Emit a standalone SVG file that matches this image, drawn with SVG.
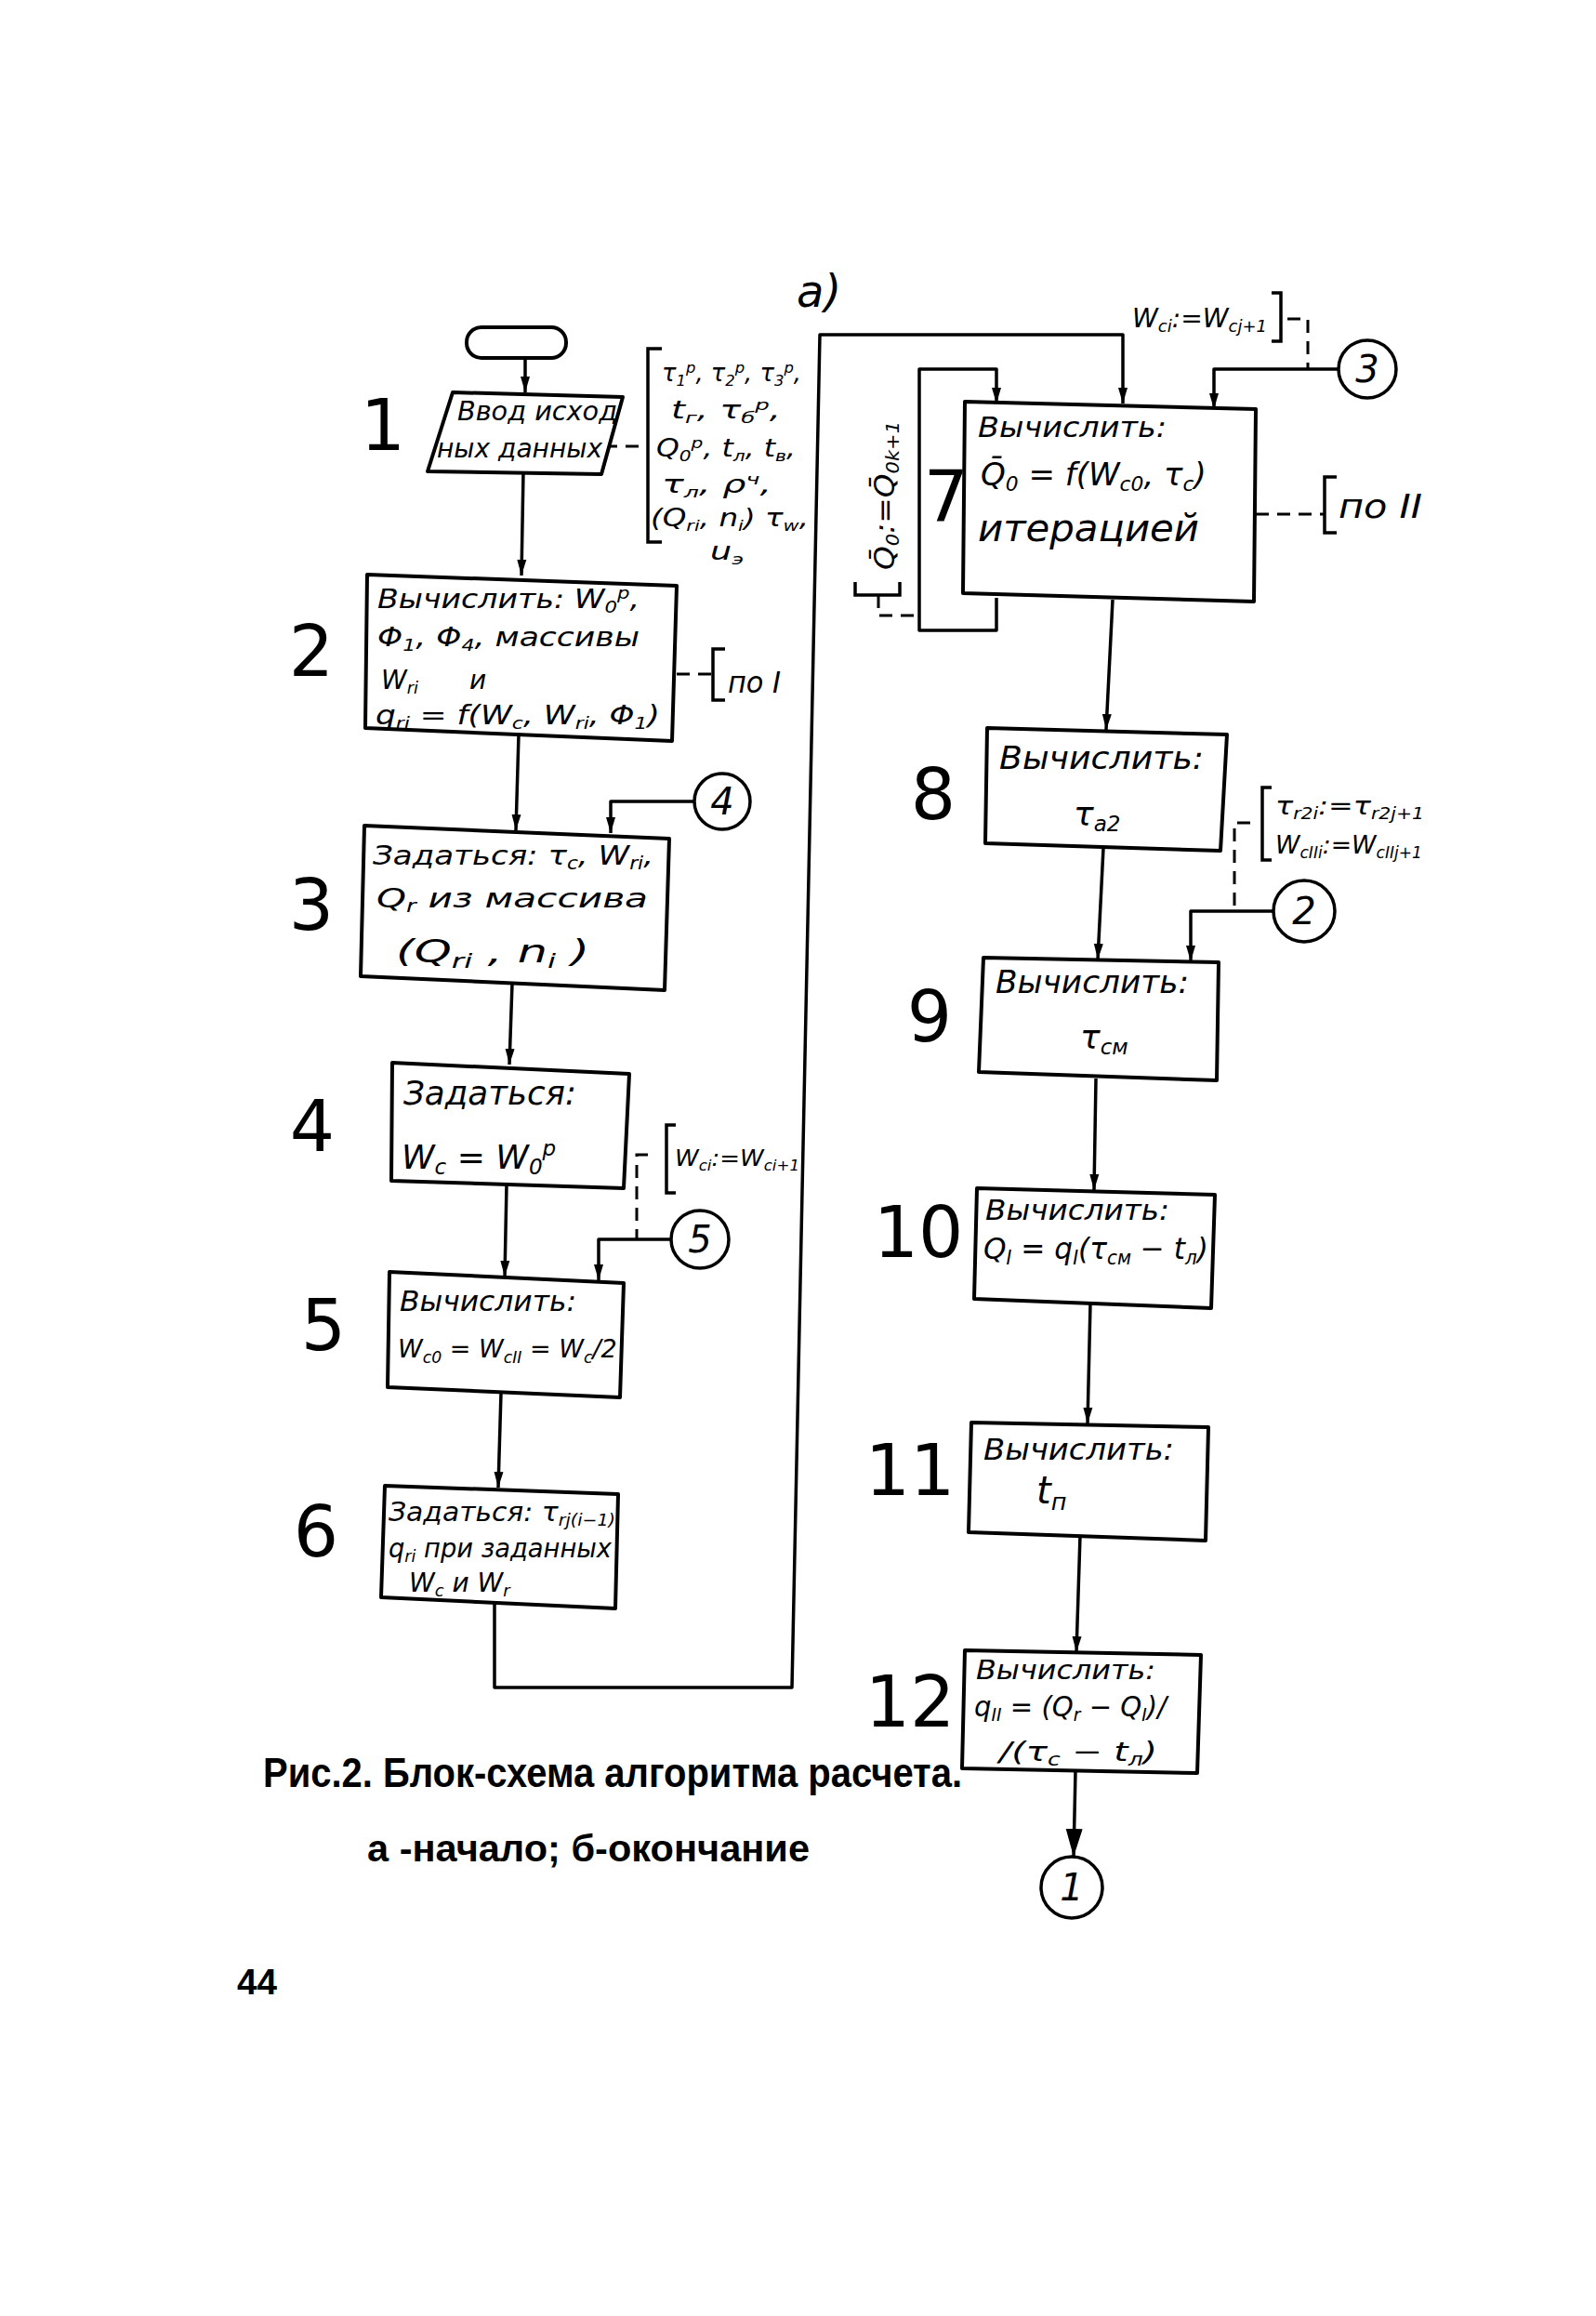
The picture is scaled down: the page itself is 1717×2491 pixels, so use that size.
<svg xmlns="http://www.w3.org/2000/svg" width="1717" height="2491" viewBox="0 0 1717 2491">
<style>
.bx{fill:#fff;stroke:#000;stroke-width:4;stroke-linejoin:round}
.ln{fill:none;stroke:#000;stroke-width:3.5;stroke-linejoin:round}
.ds{fill:none;stroke:#000;stroke-width:3;stroke-dasharray:14 9}
.br{fill:none;stroke:#000;stroke-width:3.5}
.cc{fill:#fff;stroke:#000;stroke-width:3.5}
.h{font-family:"DejaVu Sans","Liberation Sans",sans-serif;font-style:italic;fill:#000}
.n{font-family:"DejaVu Sans","Liberation Sans",sans-serif;font-size:76px;fill:#000;text-anchor:middle}
.cn{font-family:"DejaVu Sans","Liberation Sans",sans-serif;font-style:italic;font-size:40px;fill:#000;text-anchor:middle}
.cap{font-family:"Liberation Sans",sans-serif;font-weight:bold;fill:#000}
.s{font-size:0.64em}
</style>
<defs>
<marker id="a" viewBox="0 -6 17 12" refX="17" refY="0" markerWidth="17" markerHeight="12" markerUnits="userSpaceOnUse" orient="auto"><path d="M0,-5 L17,0 L0,5 z"/></marker>
<marker id="A" viewBox="0 -10 30 20" refX="30" refY="0" markerWidth="30" markerHeight="20" markerUnits="userSpaceOnUse" orient="auto"><path d="M0,-9 L30,0 L0,9 z"/></marker>
</defs>
<rect width="1717" height="2491" fill="#fff"/>

<g id="connectors">
<path class="ln" d="M565,385 V422" marker-end="url(#a)"/>
<path class="ln" d="M563,507 L561,619" marker-end="url(#a)"/>
<path class="ln" d="M558,790 L555,893" marker-end="url(#a)"/>
<path class="ln" d="M747,862 H657 V896" marker-end="url(#a)"/>
<path class="ln" d="M551,1058 L548,1145" marker-end="url(#a)"/>
<path class="ln" d="M545,1274 L543,1373" marker-end="url(#a)"/>
<path class="ln" d="M722,1333 H644 V1377" marker-end="url(#a)"/>
<path class="ln" d="M539,1498 L536,1600" marker-end="url(#a)"/>
<path class="ln" d="M532,1725 V1815 H852 L882,360 H1208 V434" marker-end="url(#a)"/>
<path class="ln" d="M1072,643 V678 H989 V397 H1072 V434" marker-end="url(#a)"/>
<path class="ln" d="M1440,397 H1306 V440" marker-end="url(#a)"/>
<path class="ln" d="M1197,645 L1190,785" marker-end="url(#a)"/>
<path class="ln" d="M1187,912 L1181,1032" marker-end="url(#a)"/>
<path class="ln" d="M1370,980 H1281 V1034" marker-end="url(#a)"/>
<path class="ln" d="M1179,1160 L1177,1280" marker-end="url(#a)"/>
<path class="ln" d="M1173,1402 L1170,1531" marker-end="url(#a)"/>
<path class="ln" d="M1162,1652 L1158,1777" marker-end="url(#a)"/>
<path class="ln" d="M1157,1905 L1155,1997" marker-end="url(#A)"/>
<path class="ds" d="M650,480 H697"/>
<path class="ds" d="M728,725 H765"/>
<path class="ds" d="M1351,553 H1424"/>
<path class="ds" d="M697,1242 H685 V1333"/>
<path class="ds" d="M1385,343 H1407 V397"/>
<path class="ds" d="M1345,885 H1328 V980"/>
<path class="ds" d="M945,640 V662 H985"/>
</g>

<g id="start"><rect class="bx" x="502" y="352" width="107" height="33" rx="16"/></g>

<g id="n1">
<polygon class="bx" points="487,422 670,427 647,510 460,507"/>
<text class="n" x="412" y="484">1</text>
<text class="h" x="492" y="452" font-size="28" textLength="172" lengthAdjust="spacingAndGlyphs">Ввод исход</text>
<text class="h" x="470" y="492" font-size="28" textLength="178" lengthAdjust="spacingAndGlyphs">ных данных</text>
</g>

<g id="n1-data">
<path class="br" d="M712,375 H697 V583 H712"/>
<g class="h" font-size="26">
<text x="712" y="410" textLength="150" lengthAdjust="spacingAndGlyphs">τ<tspan class="s" dy="5">1</tspan><tspan class="s" dy="-14">p</tspan><tspan dy="9">, τ</tspan><tspan class="s" dy="5">2</tspan><tspan class="s" dy="-14">p</tspan><tspan dy="9">, τ</tspan><tspan class="s" dy="5">3</tspan><tspan class="s" dy="-14">p</tspan><tspan dy="9">,</tspan></text>
<text x="722" y="450" textLength="118" lengthAdjust="spacingAndGlyphs">t<tspan class="s" dy="5">г</tspan><tspan dy="-5">, τ</tspan><tspan class="s" dy="5">б</tspan><tspan class="s" dy="-14">p</tspan><tspan dy="9">,</tspan></text>
<text x="706" y="491" textLength="150" lengthAdjust="spacingAndGlyphs">Q<tspan class="s" dy="5">0</tspan><tspan class="s" dy="-14">p</tspan><tspan dy="9">, t</tspan><tspan class="s" dy="5">л</tspan><tspan dy="-5">, t</tspan><tspan class="s" dy="5">в</tspan><tspan dy="-5">,</tspan></text>
<text x="712" y="530" textLength="118" lengthAdjust="spacingAndGlyphs">τ<tspan class="s" dy="5">л</tspan><tspan dy="-5">, ρ</tspan><tspan class="s" dy="-9">ч</tspan><tspan dy="9">,</tspan></text>
<text x="700" y="566" textLength="170" lengthAdjust="spacingAndGlyphs">(Q<tspan class="s" dy="5">ri</tspan><tspan dy="-5">, n</tspan><tspan class="s" dy="5">i</tspan><tspan dy="-5">) τ</tspan><tspan class="s" dy="5">w</tspan><tspan dy="-5">,</tspan></text>
<text x="764" y="602" textLength="36" lengthAdjust="spacingAndGlyphs">u<tspan class="s" dy="5">э</tspan></text>
</g>
</g>

<g id="n2">
<polygon class="bx" points="395,618 728,630 723,797 393,783"/>
<text class="n" x="335" y="727">2</text>
<g class="h" font-size="28">
<text x="406" y="654" textLength="282" lengthAdjust="spacingAndGlyphs">Вычислить: W<tspan class="s" dy="5">0</tspan><tspan class="s" dy="-15">p</tspan><tspan dy="10">,</tspan></text>
<text x="406" y="695" textLength="282" lengthAdjust="spacingAndGlyphs">Φ<tspan class="s" dy="5">1</tspan><tspan dy="-5">, Φ</tspan><tspan class="s" dy="5">4</tspan><tspan dy="-5">, массивы</tspan></text>
<text x="410" y="741">W<tspan class="s" dy="5">ri</tspan></text>
<text x="505" y="741">и</text>
<text x="404" y="779" textLength="306" lengthAdjust="spacingAndGlyphs">q<tspan class="s" dy="5">ri</tspan><tspan dy="-5"> = f(W</tspan><tspan class="s" dy="5">c</tspan><tspan dy="-5">, W</tspan><tspan class="s" dy="5">ri</tspan><tspan dy="-5">, Φ</tspan><tspan class="s" dy="5">1</tspan><tspan dy="-5">)</tspan></text>
</g>
<path class="br" d="M780,698 H767 V753 H780"/>
<text class="h" x="783" y="745" font-size="32" textLength="57" lengthAdjust="spacingAndGlyphs">по I</text>
</g>

<g id="c4"><circle class="cc" cx="777" cy="862" r="30"/><text class="cn" x="777" y="876">4</text></g>

<g id="n3">
<polygon class="bx" points="392,888 720,902 715,1065 388,1050"/>
<text class="n" x="335" y="1000">3</text>
<g class="h" font-size="29">
<text x="401" y="930" textLength="302" lengthAdjust="spacingAndGlyphs">Задаться: τ<tspan class="s" dy="5">c</tspan><tspan dy="-5">, W</tspan><tspan class="s" dy="5">ri</tspan><tspan dy="-5">,</tspan></text>
<text x="405" y="976" textLength="292" lengthAdjust="spacingAndGlyphs">Q<tspan class="s" dy="5">r</tspan><tspan dy="-5"> из массива</tspan></text>
<text x="426" y="1035" font-size="34" textLength="208" lengthAdjust="spacingAndGlyphs">(Q<tspan class="s" dy="6">ri</tspan><tspan dy="-6"> , n</tspan><tspan class="s" dy="6">i</tspan><tspan dy="-6"> )</tspan></text>
</g>
</g>

<g id="n4">
<polygon class="bx" points="422,1143 677,1155 671,1278 421,1270"/>
<text class="n" x="336" y="1238">4</text>
<g class="h" font-size="36">
<text x="434" y="1188" textLength="186" lengthAdjust="spacingAndGlyphs">Задаться:</text>
<text x="432" y="1257">W<tspan class="s" dy="6">c</tspan><tspan dy="-6"> = W</tspan><tspan class="s" dy="6">0</tspan><tspan class="s" dy="-20">p</tspan></text>
</g>
<path class="br" d="M727,1210 H717 V1283 H727"/>
<text class="h" x="726" y="1254" font-size="25" textLength="134" lengthAdjust="spacingAndGlyphs">W<tspan class="s" dy="5">ci</tspan><tspan dy="-5">:=W</tspan><tspan class="s" dy="5">ci+1</tspan></text>
</g>

<g id="c5"><circle class="cc" cx="753" cy="1333" r="31"/><text class="cn" x="753" y="1347">5</text></g>

<g id="n5">
<polygon class="bx" points="419,1368 671,1380 667,1503 417,1492"/>
<text class="n" x="348" y="1452">5</text>
<text class="h" x="430" y="1410" font-size="30" textLength="190" lengthAdjust="spacingAndGlyphs">Вычислить:</text>
<text class="h" x="428" y="1460" font-size="27">W<tspan class="s" dy="6">c0</tspan><tspan dy="-6"> = W</tspan><tspan class="s" dy="6">cII</tspan><tspan dy="-6"> = W</tspan><tspan class="s" dy="6">c</tspan><tspan dy="-6">/2</tspan></text>
</g>

<g id="n6">
<polygon class="bx" points="414,1598 665,1607 662,1730 410,1718"/>
<text class="n" x="340" y="1674">6</text>
<g class="h" font-size="28">
<text x="418" y="1636" textLength="244" lengthAdjust="spacingAndGlyphs">Задаться: τ<tspan class="s" dy="5">rj(i−1)</tspan></text>
<text x="418" y="1675" textLength="240" lengthAdjust="spacingAndGlyphs">q<tspan class="s" dy="5">ri</tspan><tspan dy="-5"> при заданных</tspan></text>
<text x="440" y="1712">W<tspan class="s" dy="5">c</tspan><tspan dy="-5">  и  W</tspan><tspan class="s" dy="5">r</tspan></text>
</g>
</g>

<text class="h" x="857" y="330" font-size="48">а)</text>

<g id="n7">
<polygon class="bx" points="1038,432 1351,440 1349,647 1036,638"/>
<text class="n" x="1018" y="561">7</text>
<text class="h" x="1052" y="470" font-size="30" textLength="203" lengthAdjust="spacingAndGlyphs">Вычислить:</text>
<text class="h" x="1055" y="522" font-size="34">Q̄<tspan class="s" dy="6">0</tspan><tspan dy="-6"> = f(W</tspan><tspan class="s" dy="6">c0</tspan><tspan dy="-6">, τ</tspan><tspan class="s" dy="6">c</tspan><tspan dy="-6">)</tspan></text>
<text class="h" x="1052" y="582" font-size="40" textLength="238" lengthAdjust="spacingAndGlyphs">итерацией</text>
<path class="br" d="M1438,513 H1425 V573 H1438"/>
<text class="h" x="1440" y="557" font-size="36" textLength="90" lengthAdjust="spacingAndGlyphs">по II</text>
<path class="br" d="M920,626 V640 H968 V626"/>
<text class="h" transform="translate(962,613) rotate(-90)" x="0" y="0" font-size="30" textLength="160" lengthAdjust="spacingAndGlyphs">Q̄<tspan class="s" dy="5">0</tspan><tspan dy="-5">:=Q̄</tspan><tspan class="s" dy="5">0k+1</tspan></text>
</g>

<g id="c3">
<circle class="cc" cx="1471" cy="397" r="31"/><text class="cn" x="1471" y="411">3</text>
<path class="br" d="M1368,315 H1378 V367 H1368"/>
<text class="h" x="1218" y="352" font-size="28" textLength="145" lengthAdjust="spacingAndGlyphs">W<tspan class="s" dy="5">ci</tspan><tspan dy="-5">:=W</tspan><tspan class="s" dy="5">cj+1</tspan></text>
</g>

<g id="n8">
<polygon class="bx" points="1062,783 1320,790 1313,915 1060,907"/>
<text class="n" x="1004" y="881">8</text>
<text class="h" x="1075" y="827" font-size="34" textLength="220" lengthAdjust="spacingAndGlyphs">Вычислить:</text>
<text class="h" x="1155" y="888" font-size="36">τ<tspan class="s" dy="6">a2</tspan></text>
<path class="br" d="M1368,847 H1358 V925 H1368"/>
<text class="h" x="1372" y="876" font-size="27" textLength="160" lengthAdjust="spacingAndGlyphs">τ<tspan class="s" dy="5">r2i</tspan><tspan dy="-5">:=τ</tspan><tspan class="s" dy="5">r2j+1</tspan></text>
<text class="h" x="1372" y="918" font-size="27" textLength="158" lengthAdjust="spacingAndGlyphs">W<tspan class="s" dy="5">cIIi</tspan><tspan dy="-5">:=W</tspan><tspan class="s" dy="5">cIIj+1</tspan></text>
</g>

<g id="c2"><circle class="cc" cx="1403" cy="980" r="33"/><text class="cn" x="1403" y="994">2</text></g>

<g id="n9">
<polygon class="bx" points="1058,1030 1311,1035 1309,1162 1053,1153"/>
<text class="n" x="1000" y="1120">9</text>
<text class="h" x="1071" y="1068" font-size="33" textLength="208" lengthAdjust="spacingAndGlyphs">Вычислить:</text>
<text class="h" x="1162" y="1128" font-size="36">τ<tspan class="s" dy="6">см</tspan></text>
</g>

<g id="n10">
<polygon class="bx" points="1051,1278 1307,1285 1303,1407 1048,1397"/>
<text class="n" x="988" y="1352">10</text>
<text class="h" x="1060" y="1312" font-size="30" textLength="198" lengthAdjust="spacingAndGlyphs">Вычислить:</text>
<text class="h" x="1058" y="1354" font-size="32" textLength="242" lengthAdjust="spacingAndGlyphs">Q<tspan class="s" dy="6">I</tspan><tspan dy="-6"> = q</tspan><tspan class="s" dy="6">I</tspan><tspan dy="-6">(τ</tspan><tspan class="s" dy="6">см</tspan><tspan dy="-6"> − t</tspan><tspan class="s" dy="6">л</tspan><tspan dy="-6">)</tspan></text>
</g>

<g id="n11">
<polygon class="bx" points="1045,1530 1300,1535 1297,1657 1042,1648"/>
<text class="n" x="979" y="1608">11</text>
<text class="h" x="1058" y="1570" font-size="32" textLength="205" lengthAdjust="spacingAndGlyphs">Вычислить:</text>
<text class="h" x="1115" y="1617" font-size="40">t<tspan class="s" dy="7">п</tspan></text>
</g>

<g id="n12">
<polygon class="bx" points="1038,1775 1292,1780 1288,1907 1035,1902"/>
<text class="n" x="979" y="1857">12</text>
<text class="h" x="1050" y="1806" font-size="28" textLength="193" lengthAdjust="spacingAndGlyphs">Вычислить:</text>
<text class="h" x="1048" y="1846" font-size="30" textLength="207" lengthAdjust="spacingAndGlyphs">q<tspan class="s" dy="5">II</tspan><tspan dy="-5"> = (Q</tspan><tspan class="s" dy="5">r</tspan><tspan dy="-5"> − Q</tspan><tspan class="s" dy="5">I</tspan><tspan dy="-5">)/</tspan></text>
<text class="h" x="1075" y="1894" font-size="29" textLength="170" lengthAdjust="spacingAndGlyphs">/(τ<tspan class="s" dy="5">c</tspan><tspan dy="-5"> − t</tspan><tspan class="s" dy="5">л</tspan><tspan dy="-5">)</tspan></text>
</g>

<g id="c1"><circle class="cc" cx="1153" cy="2030" r="33"/><text class="cn" x="1153" y="2044">1</text></g>

<g id="caption">
<text class="cap" transform="translate(283,1922) scale(1,1.18)" x="0" y="0" font-size="38" textLength="752" lengthAdjust="spacingAndGlyphs">Рис.2. Блок-схема алгоритма расчета.</text>
<text class="cap" transform="translate(395,2002) scale(1,1.12)" x="0" y="0" font-size="36" textLength="476" lengthAdjust="spacingAndGlyphs">а -начало; б-окончание</text>
<text class="cap" x="255" y="2145" font-size="39" textLength="43" lengthAdjust="spacingAndGlyphs">44</text>
</g>
</svg>
